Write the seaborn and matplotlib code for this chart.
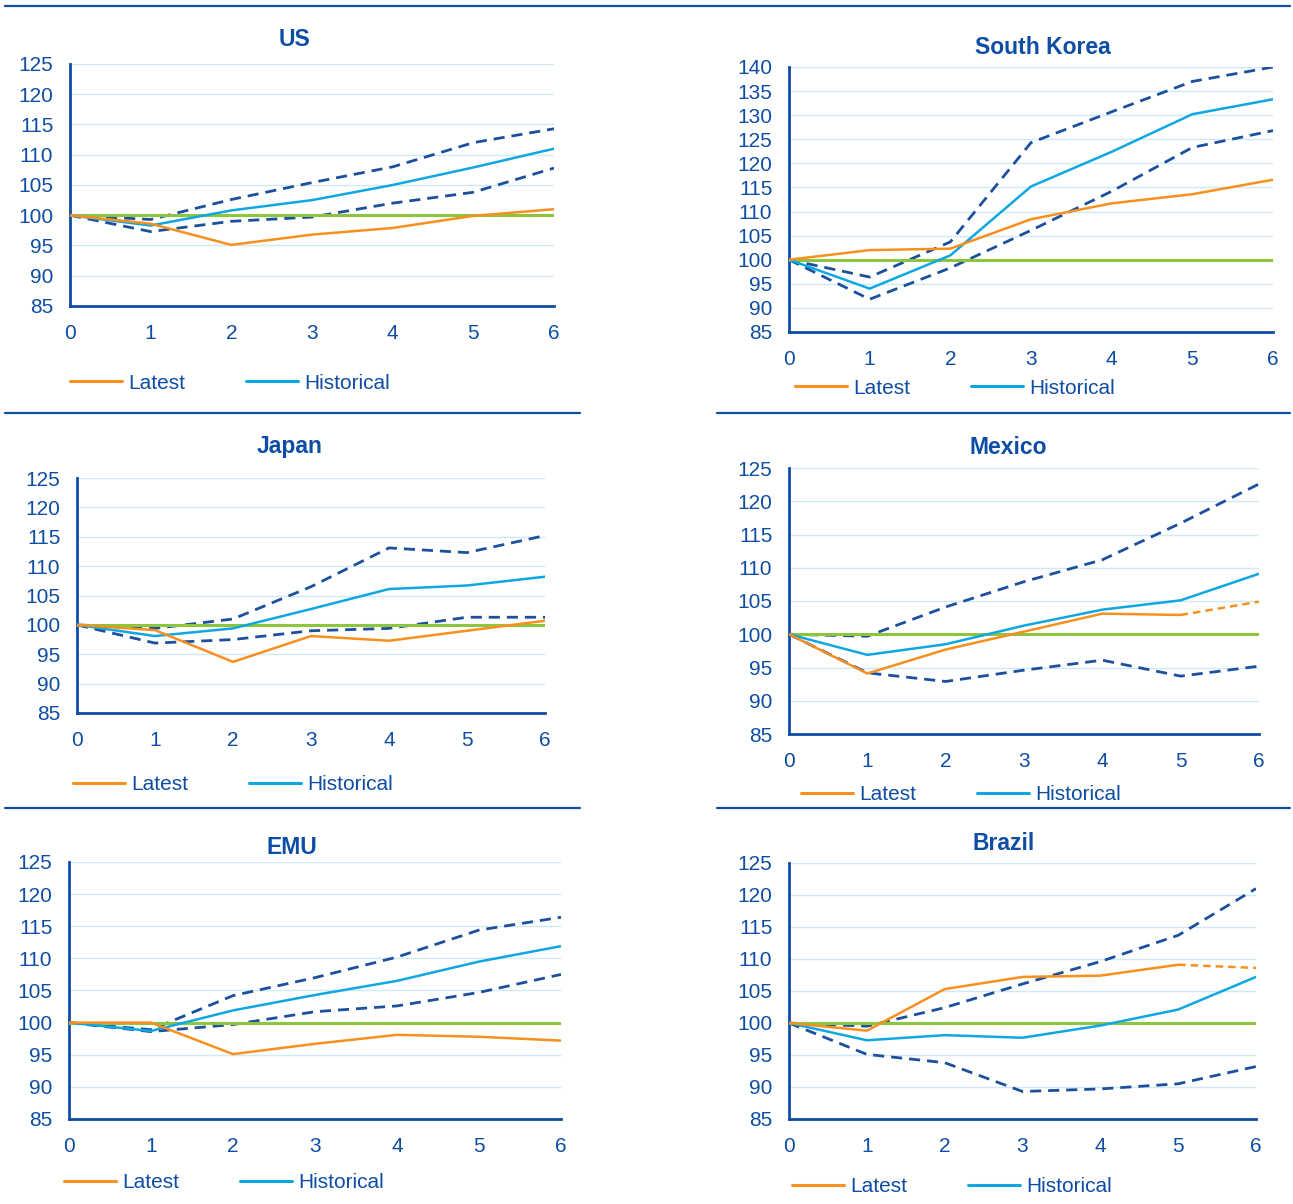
import matplotlib
matplotlib.use("Agg")
import matplotlib.pyplot as plt
from matplotlib.lines import Line2D
import seaborn as sns
import pandas as pd

sns.set_theme(style="white")
plt.rcParams['font.family'] = ['Liberation Sans', 'DejaVu Sans']

periods = [0, 1, 2, 3, 4, 5, 6]

us_latest = [100, 98.6, 95.1, 96.8, 97.9, 99.9, 101.0]
us_hist = [100, 98.3, 100.8, 102.5, 105.0, 107.9, 111.0]
us_upper = [100, 99.3, 102.6, 105.4, 108.0, 112.0, 114.3]
us_lower = [100, 97.3, 99.0, 99.7, 102.0, 103.8, 107.8]

kr_latest = [100, 102.0, 102.3, 108.4, 111.7, 113.6, 116.6]
kr_hist = [100, 94.0, 100.9, 115.2, 122.4, 130.2, 133.3]
kr_upper = [100, 96.4, 103.7, 124.3, 130.7, 137.0, 140.0]
kr_lower = [100, 91.8, 98.3, 106.1, 114.2, 123.3, 126.8]

jp_latest = [100, 99.1, 93.7, 98.1, 97.3, 99.0, 100.7]
jp_hist = [100, 98.1, 99.4, 102.7, 106.1, 106.7, 108.2]
jp_upper = [100, 99.4, 101.0, 106.5, 113.1, 112.3, 115.2]
jp_lower = [100, 96.9, 97.5, 99.0, 99.4, 101.3, 101.3]

mx_latest = [100, 94.1, 97.7, 100.4, 103.1, 102.9, 104.9]
mx_hist = [100, 96.9, 98.5, 101.3, 103.7, 105.1, 109.1]
mx_upper = [100, 99.7, 104.1, 107.9, 111.2, 116.7, 122.6]
mx_lower = [100, 94.2, 92.9, 94.6, 96.1, 93.7, 95.2]

emu_latest = [100, 100.0, 95.1, 96.7, 98.1, 97.8, 97.2]
emu_hist = [100, 98.7, 101.9, 104.3, 106.5, 109.5, 111.9]
emu_upper = [100, 98.9, 104.2, 107.0, 110.2, 114.4, 116.4]
emu_lower = [100, 98.6, 99.7, 101.7, 102.6, 104.7, 107.5]

br_latest = [100, 98.8, 105.3, 107.2, 107.4, 109.1, 108.6]
br_hist = [100, 97.3, 98.1, 97.7, 99.6, 102.1, 107.2]
br_upper = [100, 99.5, 102.4, 106.1, 109.6, 113.7, 121.0]
br_lower = [100, 95.1, 93.8, 89.3, 89.7, 90.5, 93.2]

baseline = [100] * 7

ORANGE = "#F7901E"
LBLUE = "#0FA7E2"
NAVY = "#1C4F9C"
GREEN = "#8CC63F"
AXBLUE = "#0E4DA4"
GRID = "#CDEAF6"

W, H = 1293, 1204
fig = plt.figure(figsize=(W / 100, H / 100), dpi=100)

# (title, latest, hist, upper, lower, ymax, projected_last, axes px box, title px, legend y px)
panels = [
    ("US", us_latest, us_hist, us_upper, us_lower, 125, False, (70, 64, 554, 306), (295, 40), 383),
    ("South Korea", kr_latest, kr_hist, kr_upper, kr_lower, 140, False, (789, 67, 1273, 332), (1043, 48), 388),
    ("Japan", jp_latest, jp_hist, jp_upper, jp_lower, 125, False, (77, 478, 545, 713), (290, 447), 785),
    ("Mexico", mx_latest, mx_hist, mx_upper, mx_lower, 125, True, (789, 468, 1259, 734), (1008, 447), 795),
    ("EMU", emu_latest, emu_hist, emu_upper, emu_lower, 125, False, (69, 862, 561, 1119), (292, 848), 1183),
    ("Brazil", br_latest, br_hist, br_upper, br_lower, 125, True, (789, 863, 1256, 1119), (1004, 843), 1187),
]
legend_x = [70, 795, 73, 801, 64, 792]

for (title, latest, hist, upper, lower, ymax, proj, box, tpos, legy), lx in zip(panels, legend_x):
    x0, y0, x1, y1 = box
    ax = fig.add_axes([x0 / W, 1 - y1 / H, (x1 - x0) / W, (y1 - y0) / H])
    df = pd.DataFrame({"period": periods, "latest": latest, "hist": hist,
                       "upper": upper, "lower": lower, "base": baseline})
    for col in ["upper", "lower"]:
        sns.lineplot(data=df, x="period", y=col, ax=ax, color=NAVY, lw=2.0,
                     dashes=False, linestyle=(0, (4, 2.5)), zorder=3)
    sns.lineplot(data=df, x="period", y="base", ax=ax, color=GREEN, lw=2.2, zorder=4)
    sns.lineplot(data=df, x="period", y="hist", ax=ax, color=LBLUE, lw=1.8, zorder=5)
    if proj:
        sns.lineplot(data=df.iloc[:6], x="period", y="latest", ax=ax, color=ORANGE, lw=1.8, zorder=5)
        ax.plot(df["period"].iloc[5:], df["latest"].iloc[5:], color=ORANGE, lw=1.8,
                linestyle=(0, (3, 2)), zorder=5)
    else:
        sns.lineplot(data=df, x="period", y="latest", ax=ax, color=ORANGE, lw=1.8, zorder=5)

    ax.set_xlim(0, 6)
    ax.set_ylim(85, ymax)
    ax.set_xticks(periods)
    ax.set_yticks(range(85, ymax + 1, 5))
    ax.set_xlabel("")
    ax.set_ylabel("")
    ax.grid(axis="y", color=GRID, lw=1.0)
    ax.set_axisbelow(True)
    for s in ["top", "right"]:
        ax.spines[s].set_visible(False)
    for s in ["left", "bottom"]:
        ax.spines[s].set_color(AXBLUE)
        ax.spines[s].set_linewidth(2.0)
    ax.tick_params(axis="both", colors=AXBLUE, labelsize=15, direction="out",
                   length=5, width=1.6)
    ax.tick_params(axis="y", pad=7)
    ax.tick_params(axis="x", pad=8)
    for lab in ax.get_xticklabels() + ax.get_yticklabels():
        lab.set_color(AXBLUE)

    fig.text(tpos[0] / W, 1 - tpos[1] / H, title, ha="center", va="center",
             color=AXBLUE, fontsize=16.5, fontweight="bold")

    handles = [Line2D([], [], color=ORANGE, lw=2.2), Line2D([], [], color=LBLUE, lw=2.2)]
    leg = fig.legend(handles, ["Latest", "Historical"], loc="center left",
                     bbox_to_anchor=(lx / W, 1 - legy / H), ncol=2, frameon=False,
                     fontsize=15, handlelength=2.5, handletextpad=0.3, columnspacing=2.9,
                     borderpad=0, borderaxespad=0)
    for t in leg.get_texts():
        t.set_color(AXBLUE)

# separator rules
sep = dict(color=AXBLUE, lw=1.6, transform=fig.transFigure)
fig.add_artist(Line2D([5 / W, 1290 / W], [1 - 6 / H, 1 - 6 / H], **sep))
for yy in (413, 808):
    fig.add_artist(Line2D([5 / W, 580 / W], [1 - yy / H, 1 - yy / H], **sep))
    fig.add_artist(Line2D([717 / W, 1290 / W], [1 - yy / H, 1 - yy / H], **sep))

fig.savefig("out.png", dpi=100)
